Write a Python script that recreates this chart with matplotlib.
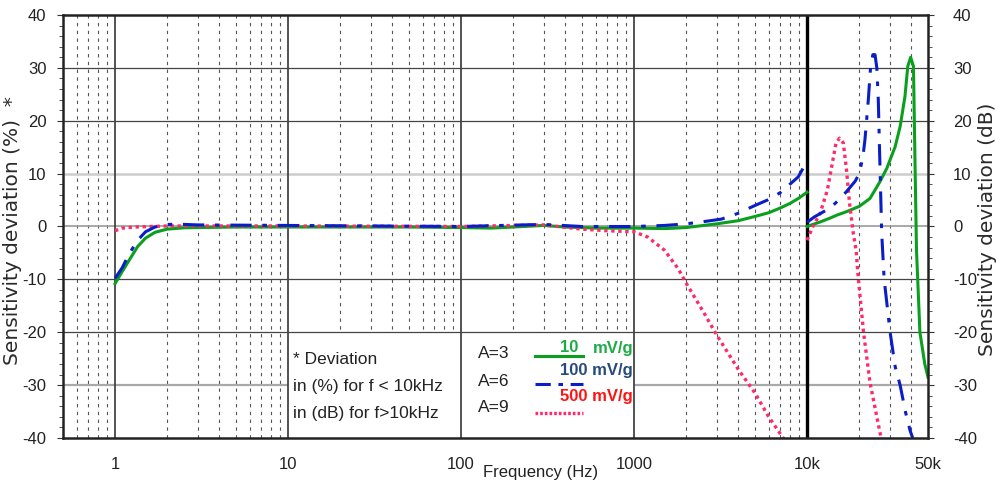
# Sensitivity deviation vs frequency for three accelerometer sensitivities
import numpy as np
import matplotlib
matplotlib.use("Agg")
import matplotlib.pyplot as plt
from matplotlib import font_manager
from matplotlib.patches import Rectangle

plt.rcParams['axes.unicode_minus'] = False

names = {f.name for f in font_manager.fontManager.ttflist}
NARROW = 'Liberation Sans Narrow' if 'Liberation Sans Narrow' in names else 'Liberation Sans'
TS = 14 if NARROW == 'Liberation Sans Narrow' else 12
TXT = '#222222'

# ---- data below 10 kHz (deviation in %) ----
f_lo_10 = [1, 1.1, 1.2, 1.35, 1.5, 1.7, 2.0, 2.5, 3, 5, 10, 20, 50, 100, 150, 200, 300, 400,
           600, 1000, 1500, 2000, 3000, 4000, 5000, 6000, 7000, 8000, 9000, 10000]
v_lo_10 = [-10.8, -8.5, -6.5, -3.8, -2.2, -1.1, -0.5, -0.25, -0.2, -0.1, -0.1, -0.1, -0.1, -0.2,
           -0.3, -0.1, 0.2, -0.1, -0.3, -0.3, -0.4, -0.2, 0.5, 1.1, 1.9, 2.6, 3.5, 4.4, 5.4, 6.5]

f_lo_100 = [1, 1.1, 1.2, 1.35, 1.5, 1.7, 2.0, 2.5, 3, 10, 100, 300, 500, 1000, 1500, 2000, 2500,
            3200, 4000, 4500, 5100, 5900, 7000, 7900, 8900, 9700, 10000]
v_lo_100 = [-9.8, -7.8, -5.3, -2.6, -1.0, -0.1, 0.4, 0.4, 0.3, 0.2, 0.0, 0.4, 0.0, 0.0, 0.2, 0.5,
            0.9, 1.4, 2.5, 3.3, 4.1, 5.0, 6.4, 7.9, 9.4, 11.6, 12.4]

f_lo_500 = [1, 1.1, 1.3, 2, 10, 100, 300, 500, 700, 1000, 1200, 1500, 1800, 2000, 2500, 3000,
            4000, 5000, 6000, 7000, 7500]
v_lo_500 = [-0.8, -0.3, -0.1, 0.1, 0.1, 0.0, 0.3, -0.5, -0.8, -1.0, -2.0, -4.5, -8.0, -10.7,
            -16.0, -20.5, -27.0, -31.5, -36.0, -39.2, -40.6]

# ---- data above 10 kHz (deviation in dB) ----
f_hi_10 = [10000, 10200, 12000, 13600, 15000, 16900, 20000, 23100, 26400, 28900, 32300, 34500,
           36800, 38200, 39700, 41200, 42100, 42900, 43600, 44900, 47900, 50000]
v_hi_10 = [0.0, 0.1, 0.9, 1.6, 2.2, 2.8, 3.8, 5.3, 8.5, 11.0, 15.1, 18.9, 24.6, 30.3, 32.0, 30.3,
           11.3, -4.5, -10.0, -20.0, -26.0, -28.5]

f_hi_100 = [10000, 11000, 12000, 13600, 15000, 16900, 19000, 20000, 21000, 21600, 22600, 23300,
            24000, 24700, 25300, 25800, 26400, 27000, 27900, 30200, 32300, 34500, 37000, 39400,
            40800]
v_hi_100 = [0.8, 1.8, 2.5, 3.5, 4.8, 6.6, 8.6, 10.0, 13.0, 16.4, 24.0, 30.3, 32.5, 32.5, 30.0,
            24.0, 11.0, -1.3, -10.0, -20.0, -26.5, -30.0, -35.0, -38.6, -40.0]

f_hi_500 = [10000, 10800, 11900, 13100, 14000, 14700, 15400, 16200, 16900, 17600, 18500, 19200,
            19800, 21200, 23100, 26400, 27000]
v_hi_500 = [-2.6, 0.0, 2.5, 6.9, 12.0, 15.8, 16.7, 15.8, 10.7, 4.4, -1.3, -4.5, -10.0, -20.0,
            -29.5, -39.0, -40.5]

xticks = [1, 10, 100, 1000, 10000, 50000]
xticklabels = ['1', '10', '100', '1000', '10k', '50k']
yticks = list(range(-40, 41, 10))

GREEN = '#0aa01e'
BLUE = '#0a1ec8'
PINK = '#ff2a6a'
DASHDOT = (7, 3.5, 1.5, 3.5)
DOTS = (1, 1.1)

fig = plt.figure(figsize=(9.96, 4.90), dpi=100)
ax = fig.add_axes([63 / 996, 52 / 490, 865 / 996, 423 / 490])
ax.set_xscale('log')
ax.set_xlim(0.5, 50000)
ax.set_ylim(-40, 40)

# minor vertical grid
for d in range(-1, 5):
    for k in range(2, 10):
        f = k * 10.0 ** d
        if 0.5 < f < 50000:
            ax.axvline(f, color='#555555', lw=0.8, dashes=(3, 4), zorder=1)

# horizontal grid
hstyle = {-30: ('#a8a8a8', 1.6, 1), -20: ('#444444', 0.9, 2), -10: ('#444444', 0.9, 1),
          0: ('#9a9a9a', 1.2, 1), 10: ('#cccccc', 1.8, 1), 20: ('#444444', 0.9, 1),
          30: ('#444444', 0.9, 1)}
for yv, (c, lw, z) in hstyle.items():
    ax.axhline(yv, color=c, lw=lw, zorder=z)

# box behind the notes
ax.add_patch(Rectangle((10, -40), 990, 20, facecolor='white', edgecolor='none', zorder=1.5))

# major vertical lines
for f in [1, 10, 100, 1000]:
    ax.axvline(f, color='#444444', lw=1.3, zorder=2)
ax.axvline(10000, color='black', lw=2.4, zorder=2)

# curves
ax.plot(f_lo_10, v_lo_10, color=GREEN, lw=2.2, zorder=3)
ax.plot(f_hi_10, v_hi_10, color=GREEN, lw=2.2, zorder=3)
ax.plot(f_lo_100, v_lo_100, color=BLUE, lw=2.2, dashes=DASHDOT, zorder=3.2)
ax.plot(f_hi_100, v_hi_100, color=BLUE, lw=2.2, dashes=DASHDOT, zorder=3.2)
ax.plot(f_lo_500, v_lo_500, color=PINK, lw=2.4, dashes=DOTS, zorder=3.1)
ax.plot(f_hi_500, v_hi_500, color=PINK, lw=2.4, dashes=DOTS, zorder=3.1)

# axes, ticks
for s in ax.spines.values():
    s.set_linewidth(1.8)
    s.set_color('#222222')
    s.set_zorder(5)
ax.set_xticks(xticks)
ax.set_xticklabels(xticklabels)
ax.minorticks_off()
ax.tick_params(axis='x', length=0, pad=14, labelsize=TS, labelcolor=TXT)
for t in ax.get_xticklabels():
    t.set_fontfamily(NARROW)
ax.set_yticks(yticks)
ax.set_yticks(np.arange(-40, 41, 2), minor=True)
ax.tick_params(axis='y', which='major', direction='out', length=4, pad=8, labelsize=TS,
               labelcolor=TXT, color='#333333')
ax.tick_params(axis='y', which='minor', direction='out', length=3, color='#333333')
for t in ax.get_yticklabels():
    t.set_fontfamily(NARROW)

ax2 = ax.twinx()
ax2.set_ylim(-40, 40)
ax2.set_yticks(yticks)
ax2.set_yticks(np.arange(-40, 41, 2), minor=True)
ax2.tick_params(axis='y', which='major', direction='out', length=4, pad=14, labelsize=TS,
                labelcolor=TXT, color='#333333')
ax2.tick_params(axis='y', which='minor', direction='out', length=3, color='#333333')
for t in ax2.get_yticklabels():
    t.set_fontfamily(NARROW)
for s in ax2.spines.values():
    s.set_visible(False)

fig.text(13 / 996, 1 - 231 / 490, 'Sensitivity deviation (%)  *', rotation=90,
         ha='center', va='center', fontsize=14.5, color='#2a2a2a', family='DejaVu Sans')
fig.text(987 / 996, 1 - 229 / 490, 'Sensitivity deviation (dB)', rotation=90,
         ha='center', va='center', fontsize=14.5, color='#2a2a2a', family='DejaVu Sans')
ax.text((541 - 63) / 865, (438 - 472) / 423, 'Frequency (Hz)', transform=ax.transAxes,
        ha='center', va='center', fontsize=TS, color=TXT, family=NARROW)

# notes and legend inside the box
def fx(X):
    return (X - 63) / 865


def fy(Y):
    return (438 - Y) / 423


NS = TS + 0.5
notes = ['* Deviation', 'in (%) for f < 10kHz', 'in (dB) for f>10kHz']
for s, Y in zip(notes, [359, 387, 413]):
    ax.text(fx(293), fy(Y), s, transform=ax.transAxes, ha='left', va='center',
            fontsize=NS, color=TXT, family=NARROW, zorder=6)
for s, Y in zip(['A=3', 'A=6', 'A=9'], [353, 381, 407]):
    ax.text(fx(478), fy(Y), s, transform=ax.transAxes, ha='left', va='center',
            fontsize=NS, color=TXT, family=NARROW, zorder=6)

ax.plot([fx(535), fx(583)], [fy(355.7)] * 2, transform=ax.transAxes, color=GREEN, lw=2.2,
        zorder=6, clip_on=False)
ax.plot([fx(535), fx(583)], [fy(384)] * 2, transform=ax.transAxes, color=BLUE, lw=2.2,
        dashes=(5, 2.5, 1.5, 2.5), zorder=6, clip_on=False)
ax.plot([fx(535), fx(583)], [fy(412.6)] * 2, transform=ax.transAxes, color=PINK, lw=2.4,
        dashes=(0.8, 0.6), zorder=6, clip_on=False)

bold = dict(transform=ax.transAxes, va='center', fontsize=12, fontweight='bold',
            family='Liberation Sans', zorder=6)
ax.text(fx(578), fy(348), '10', ha='right', color='#1cab46', **bold)
ax.text(fx(633), fy(348), 'mV/g', ha='right', color='#1cab46', **bold)
ax.text(fx(633), fy(370), '100 mV/g', ha='right', color='#274a7c', **bold)
ax.text(fx(633), fy(397), '500 mV/g', ha='right', color='#ff1414', **bold)

fig.savefig('out.png', dpi=100)
